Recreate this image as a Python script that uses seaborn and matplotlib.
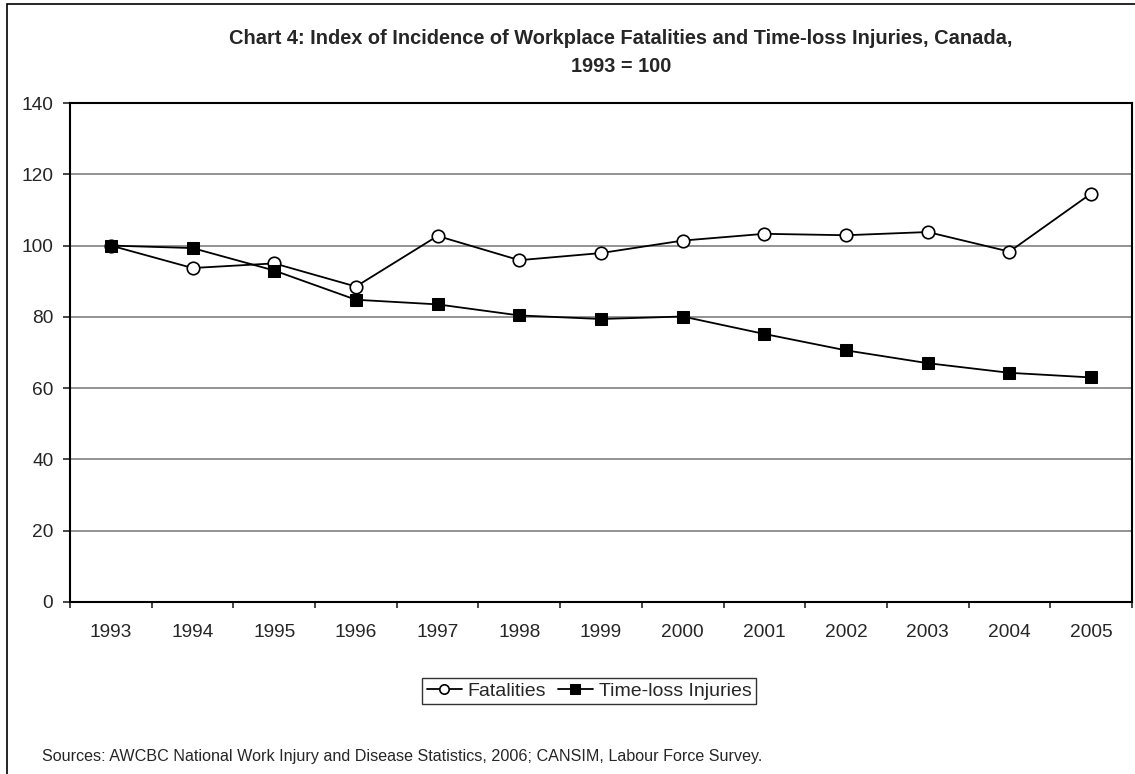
"""Index of incidence of workplace fatalities and time-loss injuries, Canada."""

import matplotlib
matplotlib.use("Agg")

import matplotlib.pyplot as plt
import matplotlib.patches as mpatches
import numpy as np
import pandas as pd
import seaborn as sns

YEARS = [str(y) for y in range(1993, 2006)]
FATALITIES = [100.0, 93.7, 95.0, 88.5, 102.7, 95.9, 97.9, 101.4, 103.3, 102.9, 103.8, 98.3, 114.6]
INJURIES = [100.0, 99.3, 93.0, 84.8, 83.5, 80.4, 79.4, 80.1, 75.2, 70.6, 67.0, 64.3, 63.0]

TITLE_1 = "Chart 4: Index of Incidence of Workplace Fatalities and Time-loss Injuries, Canada,"
TITLE_2 = "1993 = 100"
SOURCE = "Sources: AWCBC National Work Injury and Disease Statistics, 2006; CANSIM, Labour Force Survey."

sns.set_style("white")
plt.rcParams["font.family"] = ["Liberation Sans", "DejaVu Sans"]

df = pd.DataFrame({"x": np.arange(len(YEARS)), "Fatalities": FATALITIES,
                   "Time-loss Injuries": INJURIES})

fig = plt.figure(figsize=(11.35, 7.74), dpi=100)
ax = fig.add_axes([70 / 1135, 1 - 602 / 774, (1132 - 70) / 1135, (602 - 103) / 774])

sns.lineplot(data=df, x="x", y="Fatalities", ax=ax, color="black", lw=1.3,
             marker="o", markersize=9, markerfacecolor="white",
             markeredgecolor="black", markeredgewidth=1.2, label="Fatalities")
sns.lineplot(data=df, x="x", y="Time-loss Injuries", ax=ax, color="black", lw=1.3,
             marker="s", markersize=9, markerfacecolor="black",
             markeredgecolor="black", label="Time-loss Injuries")

ax.set_xlim(-0.5, len(YEARS) - 0.5)
ax.set_ylim(0, 140)
ax.set_yticks(range(0, 141, 20))
ax.yaxis.grid(True, color="#808080", lw=1.2)
ax.set_axisbelow(True)

# category labels between the tick marks, like a spreadsheet chart
ax.set_xticks(np.arange(-0.5, len(YEARS), 1.0))
ax.set_xticklabels([])
ax.set_xticks(np.arange(len(YEARS)), minor=True)
ax.set_xticklabels(YEARS, minor=True)
ax.tick_params(axis="x", which="major", length=4.5, width=1.2, direction="out", bottom=True)
ax.tick_params(axis="x", which="minor", length=0, pad=15.5, labelsize=13.8)
ax.tick_params(axis="y", length=5, width=1.2, direction="out", left=True, labelsize=13.8, pad=7)

for side in ["left", "bottom", "top", "right"]:
    ax.spines[side].set_visible(True)
    ax.spines[side].set_color("black")
    ax.spines[side].set_linewidth(1.5)

ax.set_xlabel("")
ax.set_ylabel("")

leg = ax.legend(loc="center", bbox_to_anchor=(589 / 1135, 1 - 691 / 774),
                bbox_transform=fig.transFigure, ncol=2, fontsize=14,
                handlelength=1.8, handletextpad=0.3, columnspacing=0.6,
                borderpad=0.22, fancybox=False, frameon=True, markerscale=0.75)
leg.get_frame().set_edgecolor("black")
leg.get_frame().set_linewidth(1.0)

fig.text(621 / 1135, 1 - 39 / 774, TITLE_1, ha="center", va="center",
         fontsize=14.4, fontweight="bold")
fig.text(621 / 1135, 1 - 66 / 774, TITLE_2, ha="center", va="center",
         fontsize=14.4, fontweight="bold")
fig.text(42 / 1135, 1 - 757 / 774, SOURCE, ha="left", va="center", fontsize=11.6)

fig.patches.append(mpatches.Rectangle((7 / 1135, -0.05), 1.2, 1 - 4 / 774 + 0.05,
                                      transform=fig.transFigure, fill=False,
                                      edgecolor="black", lw=1.2))

fig.savefig("out.png", dpi=100)
